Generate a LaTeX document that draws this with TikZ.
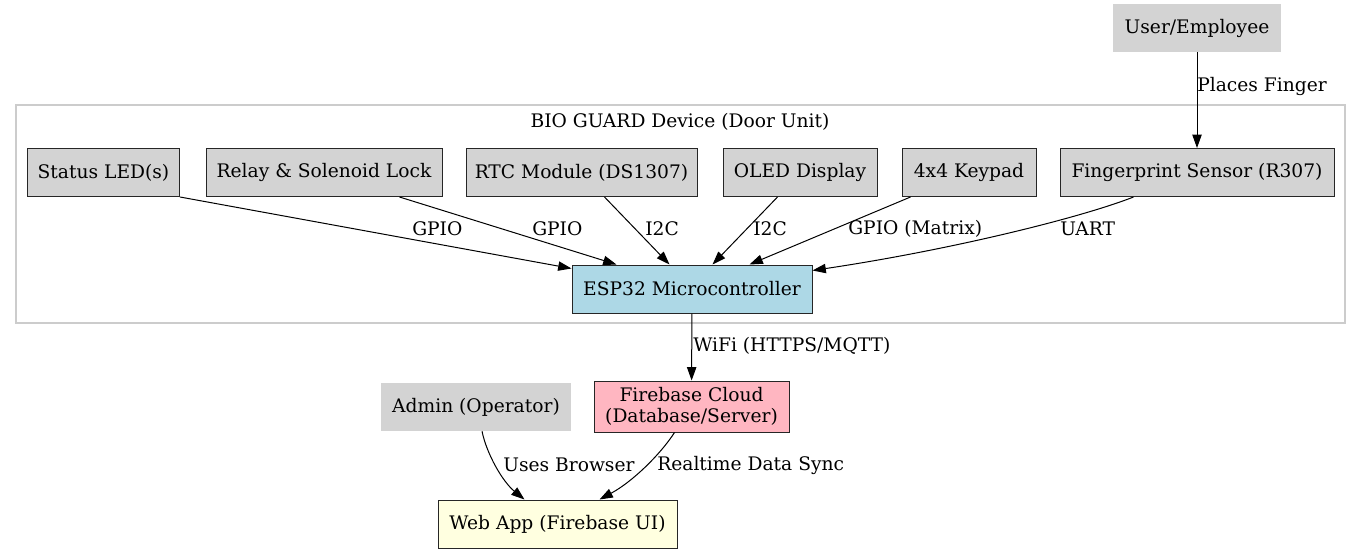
\documentclass[tikz,border=0pt]{standalone}
\usepackage{fontspec}
\setmainfont{DejaVu Serif}
\usetikzlibrary{arrows.meta,calc}
\definecolor{lgray}{HTML}{D3D3D3}
\definecolor{lblue}{HTML}{ADD8E6}
\definecolor{lpink}{HTML}{FFB6C1}
\definecolor{lyellow}{HTML}{FFFFE0}
\definecolor{clusterc}{HTML}{CCCCCC}
\begin{document}
\begin{tikzpicture}[x=0.75pt,y=-0.75pt,
  font=\fontsize{14}{16}\selectfont,
  box/.style={draw=black!85, line width=0.75pt, fill=lgray, minimum height=36pt, inner sep=0pt, align=center},
  actor/.style={fill=lgray, draw=none, minimum height=36pt, inner sep=0pt},
  edge/.style={draw=black, line width=0.75pt, -{Triangle[length=10pt,width=7pt]}},
  lbl/.style={inner sep=0pt, anchor=west}]
\useasboundingbox[fill=white] (0,0) rectangle (1361,553);
% cluster
\draw[clusterc, line width=1.1pt] (16,105) rectangle (1345,323);
\node[inner sep=0pt] (clabel) at (680,122) {BIO GUARD Device (Door Unit)};
% nodes
\node[actor, minimum width=126pt] (user) at (1197,28) {User/Employee};
\node[box, minimum width=114pt] (status) at (103.5,172.5) {Status LED(s)};
\node[box, minimum width=177pt] (relay) at (324,172.5) {Relay \& Solenoid Lock};
\node[box, minimum width=173.25pt] (rtc) at (581.5,172.5) {RTC Module (DS1307)};
\node[box, minimum width=115.5pt] (oled) at (800,172.5) {OLED Display};
\node[box, minimum width=100.5pt] (keypad) at (969,172.5) {4x4 Keypad};
\node[box, minimum width=205.5pt] (finger) at (1197,172.5) {Fingerprint Sensor (R307)};
\node[box, fill=lblue, minimum width=180pt] (esp) at (692,289) {ESP32 Microcontroller};
\node[box, fill=lpink, minimum width=146.25pt, minimum height=38.25pt] (fire) at (691.5,406.5) {Firebase Cloud\\(Database/Server)};
\node[actor, minimum width=142.5pt] (admin) at (476,407) {Admin (Operator)};
\node[box, fill=lyellow, minimum width=179.25pt] (web) at (557.5,524) {Web App (Firebase UI)};
% edges
\draw[edge] (user) -- (finger);
\draw[edge] (status.south east) -- ($(esp.north west)+(0,4)$);
\draw[edge] ($(relay.south west)+(194,0)$) -- ($(esp.north west)+(45,0)$);
\draw[edge] ($(rtc.south west)+(139,0)$) -- ($(esp.north west)+(98,0)$);
\draw[edge] ($(oled.south west)+(55,0)$) -- ($(esp.north west)+(141,0)$);
\draw[edge] ($(keypad.south west)+(9,0)$) -- ($(esp.north west)+(178,0)$);
\draw[edge] ($(finger.south west)+(74,0)$) .. controls (1080,218) and (950,250) .. ($(esp.north east)+(0,6)$);
\draw[edge] (esp) -- (fire);
\draw[edge] ($(admin.south)+(6,0)$) .. controls (487,455) and (503,482) .. ($(web.north west)+(87,0)$);
\draw[edge] ($(fire.south)+(-17,0)$) .. controls (660,455) and (632,482) .. ($(web.north west)+(162,0)$);
% edge labels
\node[lbl] (lplaces) at (1197,86) {Places Finger};
\node[lbl] (l1) at (412,229) {GPIO};
\node[lbl] (l2) at (532,229) {GPIO};
\node[lbl] (l3) at (645,229) {I2C};
\node[lbl] (l4) at (753,229) {I2C};
\node[lbl] (l5) at (848,229) {GPIO (Matrix)};
\node[lbl] (l6) at (1060,229) {UART};
\node[lbl] (l7) at (693,346) {WiFi (HTTPS/MQTT)};
\node[lbl] (l8) at (503,465) {Uses Browser};
\node[lbl] (l9) at (657,465) {Realtime Data Sync};
\end{tikzpicture}
\end{document}
